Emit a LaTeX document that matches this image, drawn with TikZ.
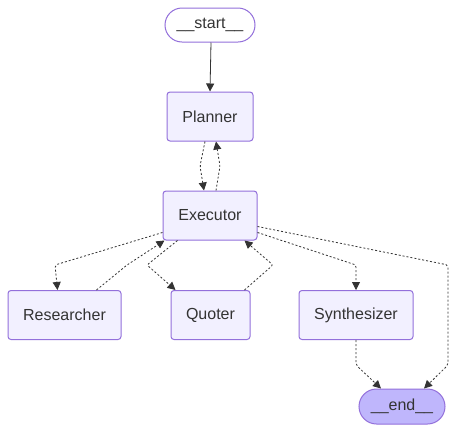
\documentclass[tikz,border=0pt]{standalone}
\usepackage{fontspec}
\setmainfont{Liberation Sans}
\usetikzlibrary{arrows.meta,shapes.misc}
\definecolor{nodefill}{HTML}{F2F0FF}
\definecolor{nodedraw}{HTML}{9370DB}
\definecolor{endfill}{HTML}{BFB6FC}
\definecolor{txt}{HTML}{333333}
\begin{document}
\begin{tikzpicture}[x=1pt,y=-1pt,
  box/.style={draw=nodedraw,fill=nodefill,line width=1pt,rounded corners=3pt,
    minimum height=49pt,inner sep=0pt,text=txt,font=\fontsize{16}{19}\selectfont},
  term/.style={draw=nodedraw,line width=1pt,rounded rectangle,
    minimum height=34pt,inner sep=0pt,text=txt,font=\fontsize{16}{19}\selectfont},
  edge/.style={draw=txt,line width=0.8pt,-{Triangle[length=8pt,width=8pt]},rounded corners=2pt},
  dedge/.style={edge,dash pattern=on 2pt off 2pt}
]
\useasboundingbox (0,0) rectangle (456,432);
\fill[white] (0,0) rectangle (456,432);
\node[term,fill=white,minimum width=90pt] (start) at (210,25) {\_\_start\_\_};
\node[box,minimum width=86pt] (planner) at (210,116.5) {Planner};
\node[box,minimum width=94pt] (exec) at (210,215.5) {Executor};
\node[box,minimum width=113pt] (res) at (64.5,315) {Researcher};
\node[box,minimum width=79pt] (quo) at (210.5,315) {Quoter};
\node[box,minimum width=114pt] (syn) at (356,315) {Synthesizer};
\node[term,fill=endfill,minimum width=86pt,minimum height=35pt] (end) at (402,406.5) {\_\_end\_\_};

\coordinate (a1) at (200,166);
\coordinate (a2) at (220,166);
\draw[edge] (start.south) ++(1,0) -- (planner.north);
\draw[dedge] ([xshift=-5pt]planner.south) -- (a1) -- ([xshift=-6pt]exec.north);
\draw[dedge] ([xshift=6pt]exec.north) -- (a2) -- ([xshift=6pt]planner.south);
\coordinate (b1) at (55,265);
\draw[dedge] ([yshift=8pt]exec.south west) -- (b1) -- ([xshift=-7pt]res.north);
\coordinate (b2) at (127,265);
\draw[dedge] ([xshift=32pt]res.north) -- (b2) -- ([xshift=2pt]exec.south west);
\coordinate (c1) at (147,265);
\draw[dedge] ([xshift=15pt]exec.south west) -- (c1) -- ([xshift=-35pt]quo.north);
\coordinate (c2) at (273,265);
\draw[dedge] ([xshift=34pt]quo.north) -- (c2) -- ([xshift=-13pt]exec.south east);
\coordinate (d1) at (356,265);
\draw[dedge] ([yshift=8pt]exec.south east) -- (d1) -- (syn.north);
\coordinate (e1) at (448,265);
\coordinate (e2) at (448,365);
\draw[dedge] ([yshift=14pt]exec.south east) -- (e1) -- (e2) -- ([xshift=22pt]end.north);
\coordinate (f1) at (356,365);
\draw[dedge] (syn.south) -- (f1) -- ([xshift=-21pt]end.north);
\end{tikzpicture}
\end{document}
